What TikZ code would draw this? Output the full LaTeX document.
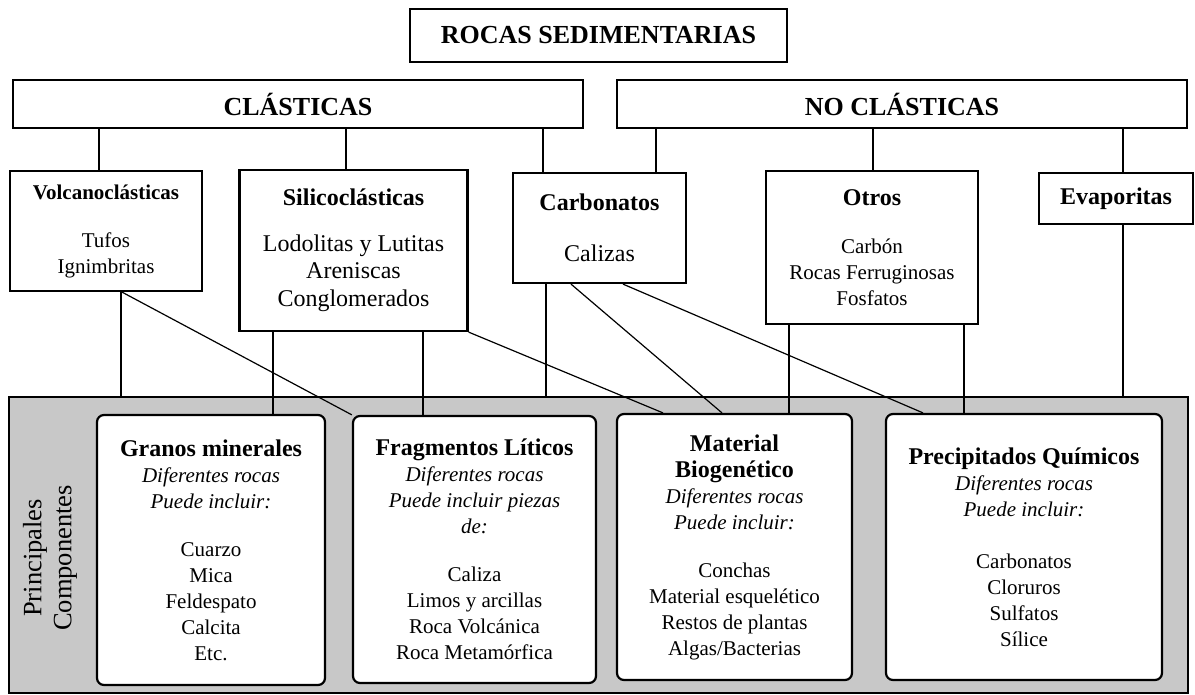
\documentclass[tikz,border=0pt]{standalone}
\usepackage{fontspec}
\setmainfont{Liberation Serif}
\definecolor{panelgray}{RGB}{200,200,200}

\begin{document}
\begin{tikzpicture}[x=1pt,y=-1pt,
    caja/.style={draw,line width=2.2pt,align=center,inner sep=0pt},
    comp/.style={caja,rounded corners=7pt,fill=white},
    enlace/.style={line width=1.2pt},
    txtgrande/.style={font=\fontsize{26}{30}\selectfont\bfseries},
    txtmedio/.style={font=\fontsize{24}{27.5}\selectfont},
    txtchico/.style={font=\fontsize{21}{26}\selectfont}]
    \useasboundingbox (0,0) rectangle (1195,695);

    \node[caja,txtgrande,minimum width=377pt,minimum height=53pt] (rocas) at (598.5,35.5) {ROCAS SEDIMENTARIAS};
    \node[caja,txtgrande,minimum width=570pt,minimum height=48pt] (clas) at (298,104) {CLÁSTICAS};
    \node[caja,txtgrande,minimum width=570pt,minimum height=48pt] (noclas) at (902,104) {NO CLÁSTICAS};

    \node[caja,txtchico,minimum width=192pt,minimum height=120pt] (volc) at (106,231)
        {\textbf{Volcanoclásticas}\\[22pt]Tufos\\Ignimbritas};
    \node[caja,txtmedio,minimum width=228pt,minimum height=161pt] (sili) at (353.5,250.5)
        {\textbf{Silicoclásticas}\\[18pt]Lodolitas y Lutitas\\Areniscas\\Conglomerados};
    \node[caja,txtmedio,minimum width=173pt,minimum height=110pt] (carb) at (599.5,228)
        {\textbf{Carbonatos}\\[24pt]Calizas};
    \node[caja,txtchico,minimum width=212pt,minimum height=153pt] (otros) at (872,247.5)
        {{\fontsize{24}{27}\selectfont\bfseries Otros}\\[22pt]Carbón\\Rocas Ferruginosas\\Fosfatos};
    \node[caja,txtmedio,minimum width=154pt,minimum height=51pt] (evap) at (1116,198.5)
        {\textbf{Evaporitas}};

    \node[caja,fill=panelgray,minimum width=1179pt,minimum height=296pt] (panel) at (598.5,545) {};
    \node[rotate=90,align=center,font=\fontsize{26.5}{30}\selectfont] (rotulo) at (50,558)
        {Principales\\Componentes};

    \node[comp,txtchico,minimum width=228pt,minimum height=270pt] (granos) at (211,550)
        {{\fontsize{24}{28}\selectfont\bfseries Granos minerales}\\\textit{Diferentes rocas}\\\textit{Puede incluir:}\\[22pt]Cuarzo\\Mica\\Feldespato\\Calcita\\Etc.};
    \node[comp,txtchico,minimum width=243pt,minimum height=267pt] (frag) at (474.5,549.5)
        {{\fontsize{24}{28}\selectfont\bfseries Fragmentos Líticos}\\\textit{Diferentes rocas}\\\textit{Puede incluir piezas}\\\textit{de:}\\[22pt]Caliza\\Limos y arcillas\\Roca Volcánica\\Roca Metamórfica};
    \node[comp,txtchico,minimum width=235pt,minimum height=266pt] (mat) at (734.5,547)
        {{\fontsize{24}{28}\selectfont\bfseries Material}\\{\fontsize{24}{28}\selectfont\bfseries Biogenético}\\\textit{Diferentes rocas}\\\textit{Puede incluir:}\\[22pt]Conchas\\Material esquelético\\Restos de plantas\\Algas/Bacterias};
    \node[comp,txtchico,minimum width=276pt,minimum height=266pt] (prec) at (1024,547)
        {{\fontsize{24}{28}\selectfont\bfseries Precipitados Químicos}\\\textit{Diferentes rocas}\\\textit{Puede incluir:}\\[26pt]Carbonatos\\Cloruros\\Sulfatos\\Sílice};

    \draw[enlace] (clas.south -| 99,0) -- (volc.north -| 99,0);
    \draw[enlace] (clas.south -| 346,0) -- (sili.north -| 346,0);
    \draw[enlace] (clas.south -| 543,0) -- (carb.north -| 543,0);
    \draw[enlace] (noclas.south -| 656,0) -- (carb.north -| 656,0);
    \draw[enlace] (noclas.south -| 873,0) -- (otros.north -| 873,0);
    \draw[enlace] (noclas.south -| 1123,0) -- (evap.north -| 1123,0);

    \draw[enlace] (volc.south -| 121,0) -- (panel.north -| 121,0);
    \draw[enlace] (volc.south -| 122,0) -- (frag.north west);
    \draw[enlace] (sili.south -| 273,0) -- (granos.north -| 273,0);
    \draw[enlace] (sili.south -| 423,0) -- (frag.north -| 423,0);
    \draw[enlace] (sili.south east) -- (mat.north -| 663,0);
    \draw[enlace] (carb.south -| 546,0) -- (panel.north -| 546,0);
    \draw[enlace] (carb.south -| 571,0) -- (mat.north -| 722,0);
    \draw[enlace] (carb.south -| 623,0) -- (prec.north -| 923,0);
    \draw[enlace] (otros.south -| 789,0) -- (mat.north -| 789,0);
    \draw[enlace] (otros.south -| 964,0) -- (prec.north -| 964,0);
    \draw[enlace] (evap.south -| 1123,0) -- (panel.north -| 1123,0);
\end{tikzpicture}
\end{document}
